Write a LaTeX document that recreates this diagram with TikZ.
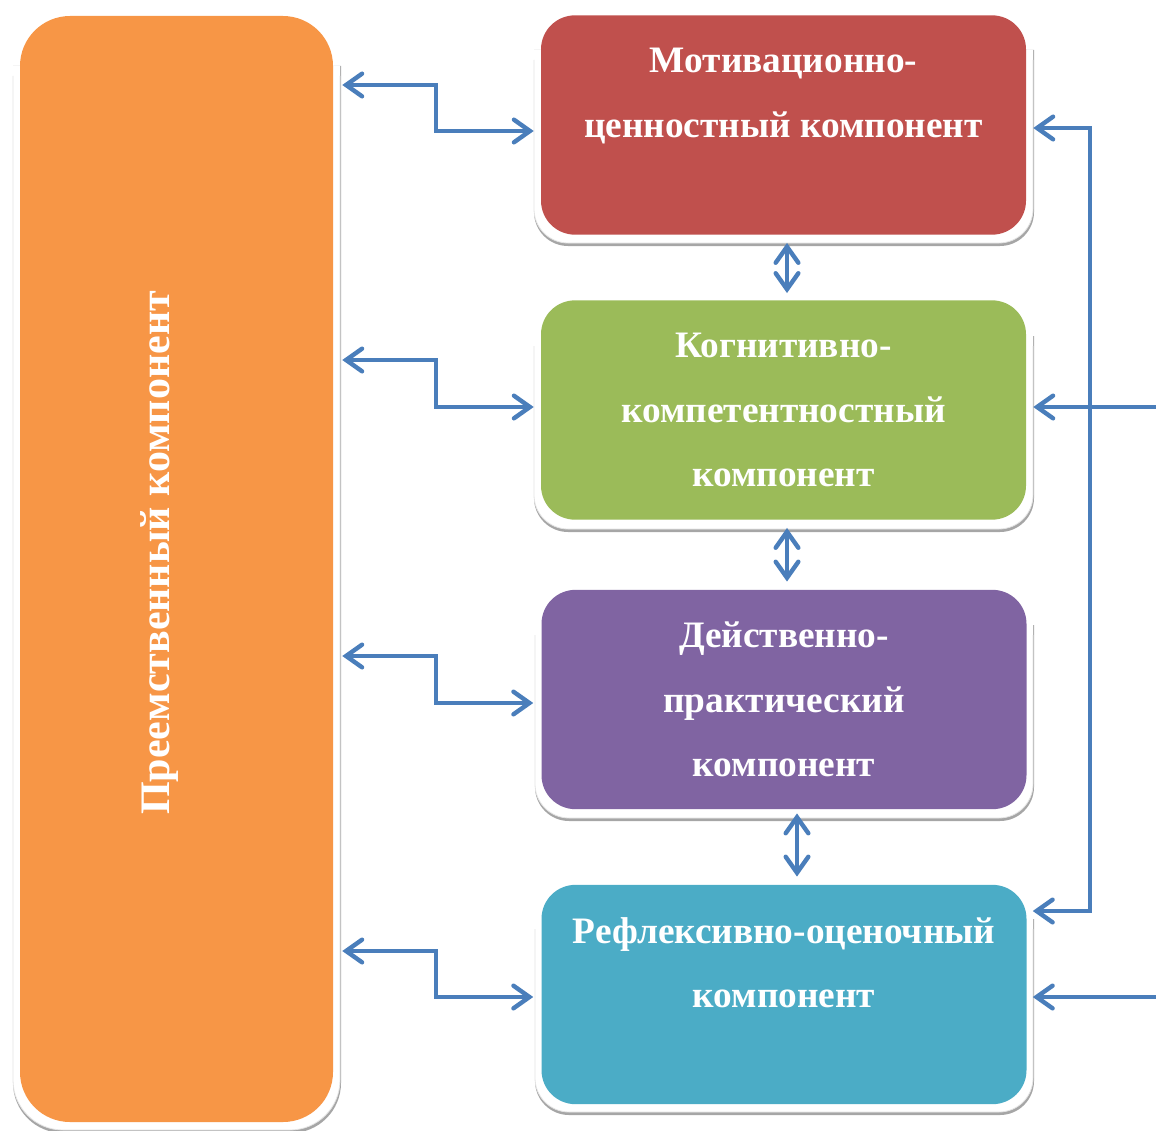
\documentclass[tikz,border=0pt]{standalone}
\usepackage{fontspec}
\setmainfont{Liberation Serif}
\usetikzlibrary{arrows.meta,calc}
\definecolor{cred}{HTML}{C0504D}
\definecolor{cgreen}{HTML}{9BBB59}
\definecolor{cpurple}{HTML}{8064A2}
\definecolor{cteal}{HTML}{4BACC6}
\definecolor{corange}{HTML}{F79646}
\definecolor{cblue}{HTML}{4A7EBB}
\definecolor{cshadow}{HTML}{A6A6A6}
\definecolor{cedge}{HTML}{E4E4E4}
% frame: x0 x1 ytop ybot r(px) r(length)
\newcommand\myframebevel[6]{%
  \fill[cshadow, rounded corners=#6] (#1-7,#3+#5) -- (#1-7,#4+11) -- (#2+8,#4+11) -- (#2+8,#3+#5);
  \fill[white, rounded corners=#6] (#1-7,#3+#5) -- (#1-7,#4+8) -- (#2+7,#4+8) -- (#2+7,#3+#5);
  \draw[cedge, line width=0.6pt, rounded corners=#6] (#1-7,#3+#5+10) -- (#1-7,#4+8) -- (#2+7,#4+8) -- (#2+7,#3+#5+10);
}
\tikzset{
  cbox/.style={rounded corners=25.5pt, draw=none, text=white, inner sep=0pt,
    minimum width=363.75pt, minimum height=164.5pt, align=center,
    font=\bfseries\fontsize{28}{48.2}\selectfont},
  conn/.style={draw=cblue, line width=3.3pt, line cap=round, line join=miter,
    arrows={Straight Barb[length=12pt,width=17pt,line cap=round]-Straight Barb[length=12pt,width=17pt,line cap=round]}},
  conn1/.style={draw=cblue, line width=3.3pt, line cap=round, line join=miter,
    arrows={-Straight Barb[length=12pt,width=17pt,line cap=round]}}
}
\begin{document}
\begin{tikzpicture}[x=0.75pt,y=-0.75pt]
\useasboundingbox (0,0) rectangle (1156,1131);
% frames
\myframebevel{20}{333}{16}{1122}{50}{37.5pt}
\myframebevel{541}{1026}{16}{235}{34}{25.5pt}
\myframebevel{541}{1026}{302}{521}{34}{25.5pt}
\myframebevel{542}{1026}{591}{810}{34}{25.5pt}
\myframebevel{542}{1026}{885}{1104}{34}{25.5pt}
% boxes
\node[cbox, fill=corange, rounded corners=37.5pt, minimum width=234.75pt, minimum height=829.5pt] (pre) at (176.5,569) {};
\node[rotate=90, text=white, font=\bfseries\fontsize{31.5}{36}\selectfont] (pretxt) at (160,553) {Преемственный компонент};
\node[cbox, fill=cred] (mot) at (783.5,125) {Мотивационно-\\ценностный компонент\\\mbox{}};
\node[cbox, fill=cgreen] (cog) at (783.5,410) {Когнитивно-\\компетентностный\\компонент};
\node[cbox, fill=cpurple] (act) at (784,699.5) {Действенно-\\практический\\компонент};
\node[cbox, fill=cteal] (ref) at (784,994.5) {Рефлексивно-оценочный\\компонент\\\mbox{}};
% left connectors
\draw[conn] ($(pre.east |- 0,85)+(9,0)$) -- (436,85) |- ($(mot.west |- 0,131)+(-7,0)$);
\draw[conn] ($(pre.east |- 0,360)+(9,0)$) -- (436,360) |- ($(cog.west |- 0,407)+(-7,0)$);
\draw[conn] ($(pre.east |- 0,656)+(9,0)$) -- (436,656) |- ($(act.west |- 0,703)+(-8,0)$);
\draw[conn] ($(pre.east |- 0,951)+(9,0)$) -- (436,951) |- ($(ref.west |- 0,997)+(-8,0)$);
% vertical connectors
\draw[conn] ($(mot.south)+(3.5,8)$) -- ($(cog.north)+(3.5,-7)$);
\draw[conn] ($(cog.south)+(3.5,8)$) -- ($(act.north)+(3,-8)$);
\draw[conn] ($(act.south)+(13,4)$) -- ($(ref.north)+(13,-8)$);
% right connectors
\draw[conn] ($(mot.east |- 0,128)+(7,0)$) -- (1090,128) -- (1090,911) -- ($(ref.east |- 0,911)+(6,0)$);
\coordinate (r1) at (1158,407);
\coordinate (r2) at (1158,997);
\draw[conn1] (r1) -- ($(cog.east |- 0,407)+(7,0)$);
\draw[conn1] (r2) -- ($(ref.east |- 0,997)+(6,0)$);
\end{tikzpicture}
\end{document}
